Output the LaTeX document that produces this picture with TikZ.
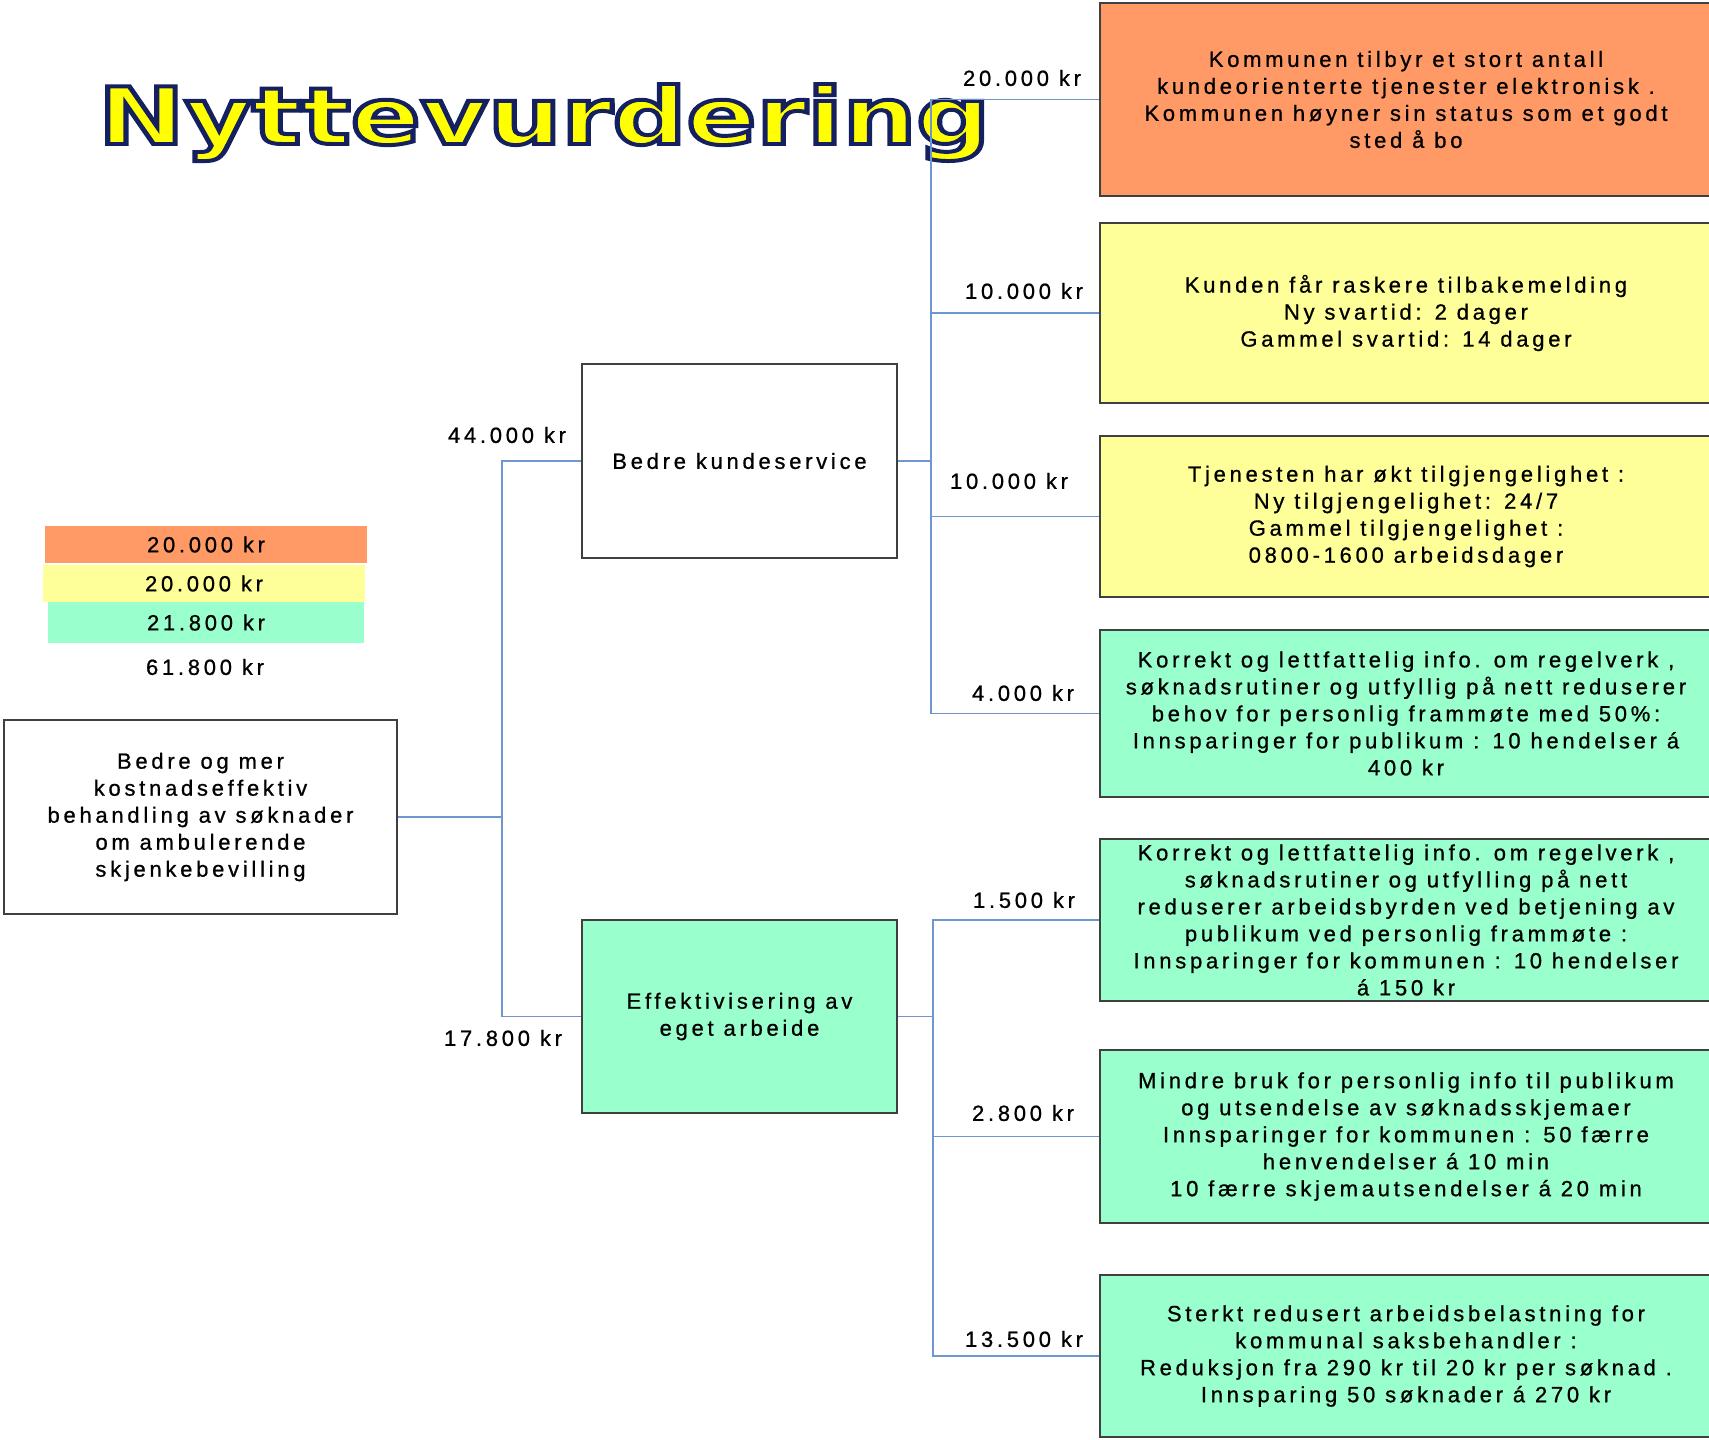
\documentclass[tikz,border=0pt]{standalone}
\usepackage{fontspec}
\usepackage{xcolor}
\usepackage{graphicx}
\usepackage{tikz}
\usetikzlibrary{positioning, calc}

\setmainfont{Liberation Sans}[LetterSpace=17, FakeBold=0.8]
\newfontfamily\titlefont{DejaVu Sans Bold}[LetterSpace=0, FakeBold=5]

\definecolor{boxorange}{RGB}{255,153,102}
\definecolor{boxyellow}{RGB}{255,255,153}
\definecolor{boxgreen}{RGB}{153,255,204}
\definecolor{linkblue}{RGB}{112,150,208}
\definecolor{titleyellow}{RGB}{255,255,0}

% yellow letters, navy stroke
\newcommand{\titleword}{\resizebox{892pt}{60pt}{\textcolor{titleyellow}{%
    \special{pdf:literal direct 0.08 0.125 0.376 RG}\titlefont Nyttevurdering}}}

\begin{document}
\begin{tikzpicture}[x=1pt, y=-1pt,
        box/.style={draw=black!75, line width=1.5pt, align=center, inner sep=0pt,
            font=\fontsize{22}{27}\selectfont},
        leaf/.style={box, minimum width=612pt},
        link/.style={draw=linkblue, line width=1.5pt},
        sum/.style={inner sep=0pt, font=\fontsize{22}{27}\selectfont}]
        \useasboundingbox (0,0) rectangle (1709,1440);

        % title
        \node[anchor=base west, inner sep=0pt] (title) at (98,144) {\titleword};

        % legend
        \node[sum, fill=boxorange, minimum width=322pt, minimum height=37pt] (sumA) at (206,544.5) {20.000 kr};
        \node[sum, fill=boxyellow, minimum width=322pt, minimum height=37pt] (sumB) at (204,583.5) {20.000 kr};
        \node[sum, fill=boxgreen, minimum width=316pt, minimum height=41pt] (sumC) at (206,622.5) {21.800 kr};
        \node[sum] (total) at (205,667) {61.800 kr};

        % goal and sub goals
        \node[box, minimum width=393pt, minimum height=194pt] (goal) at (200.5,817)
            {Bedre og mer\\kostnadseffektiv\\behandling av søknader\\om ambulerende\\skjenkebevilling};
        \node[box, minimum width=315pt, minimum height=194pt] (service) at (739.5,461) {Bedre kundeservice};
        \node[box, fill=boxgreen, minimum width=315pt, minimum height=193pt] (work) at (739.5,1016.5)
            {Effektivisering av\\eget arbeide};

        % benefits
        \node[leaf, fill=boxorange, minimum height=193pt] (offer) at (1406,99.5)
            {Kommunen tilbyr et stort antall\\kundeorienterte tjenester elektronisk .\\Kommunen høyner sin status som et godt\\sted å bo};
        \node[leaf, fill=boxyellow, minimum height=180pt] (reply) at (1406,313)
            {Kunden får raskere tilbakemelding\\Ny svartid: 2 dager\\Gammel svartid:  14 dager};
        \node[leaf, fill=boxyellow, minimum height=161pt] (access) at (1406,516.5)
            {Tjenesten har økt tilgjengelighet :\\Ny tilgjengelighet: 24/7\\Gammel tilgjengelighet :\\0800-1600 arbeidsdager};
        \node[leaf, fill=boxgreen, minimum height=167pt] (info) at (1406,713.5)
            {Korrekt og lettfattelig info. om regelverk ,\\søknadsrutiner og utfyllig på nett reduserer\\behov for personlig frammøte med  50\%:\\Innsparinger for publikum : 10 hendelser á\\400 kr};
        \node[leaf, fill=boxgreen, minimum height=162pt] (guide) at (1406,920)
            {Korrekt og lettfattelig info. om regelverk ,\\søknadsrutiner og utfylling på nett\\reduserer arbeidsbyrden ved betjening av\\publikum ved personlig frammøte :\\Innsparinger for kommunen : 10 hendelser\\á 150 kr};
        \node[leaf, fill=boxgreen, minimum height=173pt] (mail) at (1406,1136.5)
            {Mindre bruk for personlig info til publikum\\og utsendelse av søknadsskjemaer\\Innsparinger for kommunen : 50 færre\\henvendelser á  10 min\\10 færre skjemautsendelser á  20 min};
        \node[leaf, fill=boxgreen, minimum height=162pt] (cut) at (1406,1356)
            {Sterkt redusert arbeidsbelastning for\\kommunal saksbehandler :\\Reduksjon fra 290 kr til 20 kr per søknad .\\Innsparing  50 søknader á 270 kr};

        % connectors
        \draw[link] (goal.east) -- ++(104,0) coordinate (forkG);
        \draw[link] (service.west) -| (forkG) |- (work.west);
        \draw[link] (service.east) -- ++(33,0) coordinate (forkS);
        \draw[link] (offer.west) -| (forkS) |- (info.west);
        \draw[link] (reply.west) -- (reply.west -| forkS);
        \draw[link] (access.west) -- (access.west -| forkS);
        \draw[link] (work.east) -- ++(35,0) coordinate (forkW);
        \draw[link] (guide.west) -| (forkW) |- (cut.west);
        \draw[link] (mail.west) -- (mail.west -| forkW);

        % amounts
        \node[sum] (amtService) at (507,435) {44.000 kr};
        \node[sum] (amtWork) at (503,1038) {17.800 kr};
        \node[sum] (amtOffer) at (1022,78) {20.000 kr};
        \node[sum] (amtReply) at (1024,291) {10.000 kr};
        \node[sum] (amtAccess) at (1009,481) {10.000 kr};
        \node[sum] (amtInfo) at (1023,693) {4.000 kr};
        \node[sum] (amtGuide) at (1024,900) {1.500 kr};
        \node[sum] (amtMail) at (1023,1113) {2.800 kr};
        \node[sum] (amtCut) at (1024,1339) {13.500 kr};
\end{tikzpicture}
\end{document}
